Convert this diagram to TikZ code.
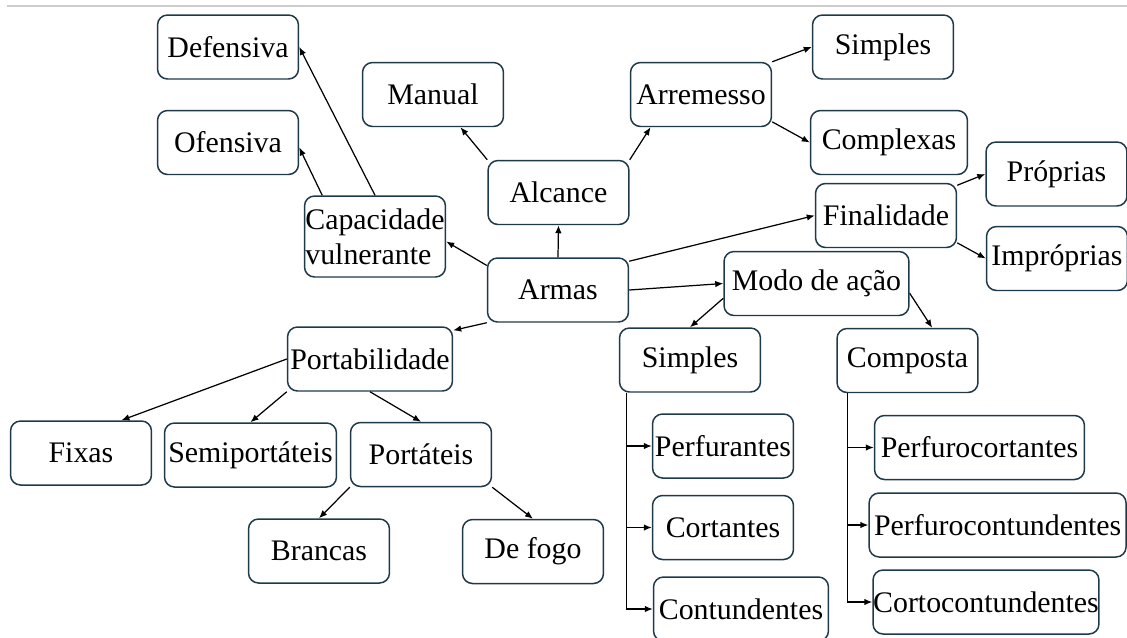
\documentclass[tikz,border=0pt]{standalone}
\usepackage{fontspec}
\setmainfont{Liberation Serif}
\usetikzlibrary{arrows.meta}
\definecolor{boxline}{HTML}{1E3A4A}
\begin{document}
\begin{tikzpicture}[x=0.02cm,y=-0.02cm,
  box/.style={draw=boxline, line width=0.85pt, rounded corners=0.2cm, inner sep=0pt,
    minimum width=2.82cm, minimum height=1.28cm, font=\fontsize{17}{19.9}\selectfont},
  link/.style={-{Latex[length=1.6mm,width=1.3mm]}, line width=0.7pt}]
\useasboundingbox (0,0) rectangle (1127,637);
\draw[black!20, line width=0.6pt] (7,6) -- (1127,6);
\node[box] (def) at (228,47) {Defensiva};
\node[box] (ofe) at (228,142.5) {Ofensiva};
\node[box] (man) at (433,94.5) {Manual};
\node[box, minimum height=1.62cm, align=left] (cap) at (375,236.5) {Capacidade\\vulnerante};
\node[box] (alc) at (558.5,192.5) {Alcance};
\node[box] (arm) at (558,290) {Armas};
\node[box] (arr) at (701,94.5) {Arremesso};
\node[box] (simA) at (883,47) {Simples};
\node[box, minimum width=3.14cm] (cpx) at (889,142.5) {Complexas};
\node[box] (pro) at (1056.5,174) {Próprias};
\node[box] (fin) at (886,215.5) {Finalidade};
\node[box] (imp) at (1057,258.5) {Impróprias};
\node[box, minimum width=3.7cm] (modo) at (816.5,283.5) {Modo de ação};
\node[box, minimum width=3.3cm] (port) at (370,359) {Portabilidade};
\node[box] (fix) at (81,453) {Fixas};
\node[box, minimum width=3.44cm] (semi) at (250.5,455) {Semiportáteis};
\node[box] (ptt) at (421,454.5) {Portáteis};
\node[box] (bra) at (319,551) {Brancas};
\node[box] (fogo) at (533,551.5) {De fogo};
\node[box] (simB) at (690,360) {Simples};
\node[box] (comp) at (907.5,360.5) {Composta};
\node[box] (perf) at (723,446) {Perfurantes};
\node[box] (cort) at (723,527.5) {Cortantes};
\node[box, minimum width=3.5cm] (cont) at (741,609) {Contundentes};
\node[box, minimum width=4.2cm] (pfc) at (979.5,447.5) {Perfurocortantes};
\node[box, minimum width=5.14cm] (pfct) at (997.6,525) {Perfurocontundentes};
\node[box, minimum width=4.52cm] (ctc) at (986,602) {Cortocontundentes};
\draw[link] (arm.161) -- (cap.-4);
\draw[link] (cap.142) -- (ofe.-4);
\draw[link] (cap.north) -- (def.east);
\draw[link] (alc.north west) -- (man.-50);
\draw[link] (arm.north) -- (alc.south);
\draw[link] (alc.north east) -- (arr.-147);
\draw[link] (arr.north east) -- (simA.west);
\draw[link] (arr.-21) -- (cpx.west);
\draw[link] (arm.22) -- (fin.west);
\draw[link] (fin.23) -- (pro.west);
\draw[link] (fin.-21) -- (imp.west);
\draw[link] (arm.east) -- (modo.west);
\draw[link] (modo.-171) -- (simB.north);
\draw[link] (modo.-6) -- (comp.53);
\draw[link] (arm.south west) -- (port.19);
\draw[link] (port.west) -- (fix.39);
\draw[link] (port.south west) -- (semi.north);
\draw[link] (port.south) -- (ptt.north);
\draw[link] (ptt.south west) -- (bra.north);
\draw[link] (ptt.south east) -- (fogo.north);
\draw[link] ([xshift=0.16cm]simB.south west) |- (perf.west);
\draw[link] ([xshift=0.16cm]simB.south west) |- (cort.west);
\draw[link] ([xshift=0.16cm]simB.south west) |- (cont.west);
\draw[link] ([xshift=0.22cm]comp.south west) |- (pfc.west);
\draw[link] ([xshift=0.22cm]comp.south west) |- (pfct.west);
\draw[link] ([xshift=0.22cm]comp.south west) |- (ctc.west);
\end{tikzpicture}
\end{document}
